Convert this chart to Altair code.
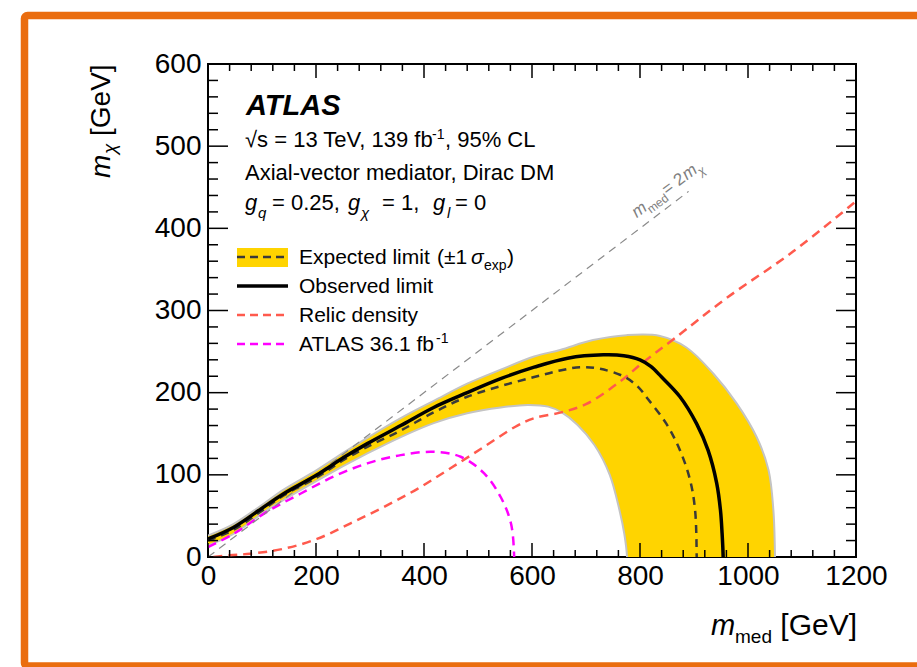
import altair as alt
import pandas as pd

# ---------------- data ----------------
obs_x = [0, 47, 97, 140, 202, 251, 295, 357, 418, 480, 542, 604, 666, 732, 770, 800, 820, 840, 874, 905, 926, 942, 949, 952, 954]
obs_y = [22, 36, 58, 77, 100, 121, 138, 160, 182, 200, 217, 231, 242, 246, 245, 240, 232, 219, 195, 162, 130, 90, 57, 29, 0]

exp_x = [0, 47, 97, 140, 202, 251, 295, 357, 418, 480, 542, 604, 652, 689, 726, 769, 795, 815, 849, 874, 893, 902, 905]
exp_y = [20, 33, 55, 75, 97, 118, 134, 154, 176, 195, 208, 219, 227, 231, 229, 220, 208, 192, 162, 130, 93, 57, 0]

band_up_x = [0, 47, 97, 140, 202, 251, 295, 357, 418, 480, 542, 604, 652, 713, 775, 837, 886, 936, 979, 1016, 1038, 1047, 1050]
band_up_y = [26, 40, 62, 82, 106, 127, 145, 169, 190, 211, 228, 244, 252, 264, 270, 269, 255, 223, 187, 146, 106, 57, 0]

band_lo_x = [0, 47, 109, 202, 295, 357, 418, 480, 542, 592, 630, 655, 684, 716, 744, 762, 771, 776]
band_lo_y = [14, 28, 57, 93, 126, 146, 163, 175, 182, 185, 183, 176, 161, 136, 100, 57, 28, 0]

relic_x = [10, 40, 78, 140, 202, 264, 326, 388, 449, 511, 573, 604, 654, 700, 760, 806, 862, 960, 1084, 1200]
relic_y = [0, 2, 4, 10, 22, 41, 61, 83, 108, 134, 160, 169, 176, 186, 212, 237, 265, 315, 372, 433]

old_x = [0, 47, 109, 171, 233, 295, 357, 418, 468, 511, 542, 561, 567]
old_y = [12, 28, 55, 77, 98, 114, 124, 128, 122, 102, 73, 41, 0]

diag_x = [0, 890]
diag_y = [0, 445]

x_major = [0, 200, 400, 600, 800, 1000, 1200]
x_minor = [v for v in range(40, 1200, 40) if v % 200 != 0]
y_major = [0, 100, 200, 300, 400, 500, 600]
y_minor = [v for v in range(20, 600, 20) if v % 100 != 0]

# ---------------- layout / style ----------------
FONT = "Liberation Sans"
L, T, W, H = 208, 64, 648, 493
YEL = "#FFD400"
RED = "#FF5A4D"
MAG = "#FF00FF"
ORANGE = "#EA6D0F"
GRAYLINE = "#C4C4C4"
SMOOTH = "catmull-rom"
BELOW = -25  # helper depth below the axis so curve ends run straight down (clipped away)


def dfxy(xs, ys):
    return pd.DataFrame({"x": xs, "y": ys, "i": list(range(len(xs)))})


xsc = alt.Scale(domain=[0, 1200], nice=False, zero=False)
ysc = alt.Scale(domain=[0, 600], nice=False, zero=False)
X = alt.X("x:Q", scale=xsc, axis=alt.Axis(values=x_major, title=None, ticks=False, domain=False, grid=False,
                                          labelFontSize=28, labelFont=FONT, labelPadding=5, labelColor="black",
                                          labelFlush=False, format="d"))
Y = alt.Y("y:Q", scale=ysc, axis=alt.Axis(values=y_major, title=None, ticks=False, domain=False, grid=False,
                                          labelFontSize=28, labelFont=FONT, labelPadding=7, labelColor="black",
                                          format="d"))

one = pd.DataFrame({"a": [0]})

layers = []

# +-1 sigma band as one closed polygon: upper edge out, lower edge back
up_ext_x = band_up_x + [band_up_x[-1]]
up_ext_y = band_up_y + [BELOW]
lo_ext_x = band_lo_x + [band_lo_x[-1]]
lo_ext_y = band_lo_y + [BELOW]
poly_x = up_ext_x + lo_ext_x[::-1]
poly_y = up_ext_y + lo_ext_y[::-1]
layers.append(alt.Chart(dfxy(poly_x, poly_y)).mark_line(fill=YEL, strokeOpacity=0, strokeWidth=0,
                                                        interpolate=SMOOTH, clip=True)
              .encode(x=X, y=Y, order="i:Q"))
for bx, by in [(up_ext_x, up_ext_y), (lo_ext_x, lo_ext_y)]:
    layers.append(alt.Chart(dfxy(bx, by)).mark_line(color=GRAYLINE, strokeWidth=2, interpolate=SMOOTH, clip=True)
                  .encode(x=X, y=Y, order="i:Q"))

# other curves
layers.append(alt.Chart(dfxy(relic_x, relic_y)).mark_line(color=RED, strokeWidth=2.5, strokeDash=[9, 6],
                                                          interpolate=SMOOTH, clip=True)
              .encode(x=X, y=Y, order="i:Q"))
layers.append(alt.Chart(dfxy(old_x + [old_x[-1]], old_y + [BELOW])).mark_line(
    color=MAG, strokeWidth=2.5, strokeDash=[9, 6], interpolate=SMOOTH, clip=True)
              .encode(x=X, y=Y, order="i:Q"))
layers.append(alt.Chart(dfxy(diag_x, diag_y)).mark_line(color="#8A8A8A", strokeWidth=1.2, strokeDash=[8, 6], clip=True)
              .encode(x=X, y=Y, order="i:Q"))
layers.append(alt.Chart(dfxy(exp_x + [exp_x[-1]], exp_y + [BELOW])).mark_line(
    color="#3A3A3A", strokeWidth=2.5, strokeDash=[8, 6], interpolate=SMOOTH, clip=True)
              .encode(x=X, y=Y, order="i:Q"))
layers.append(alt.Chart(dfxy(obs_x + [obs_x[-1]], obs_y + [BELOW])).mark_line(
    color="black", strokeWidth=3.5, interpolate=SMOOTH, clip=True)
              .encode(x=X, y=Y, order="i:Q"))

# inward ticks on all four sides
xmaj_df = pd.DataFrame({"x": x_major})
xmin_df = pd.DataFrame({"x": x_minor})
ymaj_df = pd.DataFrame({"y": y_major})
ymin_df = pd.DataFrame({"y": y_minor})
for d, ln in [(xmaj_df, 14), (xmin_df, 7)]:
    layers.append(alt.Chart(d).mark_rule(color="black", strokeWidth=1.5)
                  .encode(x=X, y=alt.value(H), y2=alt.value(H - ln)))
    layers.append(alt.Chart(d).mark_rule(color="black", strokeWidth=1.5)
                  .encode(x=X, y=alt.value(0), y2=alt.value(ln)))
for d, ln in [(ymaj_df, 20), (ymin_df, 10)]:
    layers.append(alt.Chart(d).mark_rule(color="black", strokeWidth=1.5)
                  .encode(y=Y, x=alt.value(0), x2=alt.value(ln)))
    layers.append(alt.Chart(d).mark_rule(color="black", strokeWidth=1.5)
                  .encode(y=Y, x=alt.value(W), x2=alt.value(W - ln)))


def txt(text, px, py, size, style="normal", weight="normal", color="black", align="left", angle=0, dx=0, dy=0):
    return alt.Chart(one).mark_text(text=text, font=FONT, fontSize=size, fontStyle=style, fontWeight=weight,
                                    color=color, align=align, baseline="alphabetic", angle=angle, dx=dx, dy=dy
                                    ).encode(x=alt.value(px - L), y=alt.value(py - T))


# info block
layers += [
    txt("ATLAS", 246, 115, 29, style="italic", weight="bold"),
    txt("√s = 13 TeV, 139 fb", 245, 147, 22),
    txt("-1", 432, 139, 14),
    txt(", 95% CL", 445, 147, 22),
    txt("Axial-vector mediator, Dirac DM", 245, 180, 22),
    txt("g", 245, 210, 22, style="italic"),
    txt("q", 258, 218, 15, style="italic"),
    txt("= 0.25,", 272, 210, 22),
    txt("g", 348, 210, 22, style="italic"),
    txt("χ", 361, 218, 15, style="italic"),
    txt("= 1,", 382, 210, 22),
    txt("g", 433, 210, 22, style="italic"),
    txt("l", 447, 218, 15, style="italic"),
    txt("= 0", 455, 210, 22),
]


# legend
def hseg(px1, px2, py, color, width, dash=None):
    kw = dict(color=color, strokeWidth=width)
    if dash is not None:
        kw["strokeDash"] = dash
    return alt.Chart(one).mark_rule(**kw).encode(x=alt.value(px1 - L), x2=alt.value(px2 - L), y=alt.value(py - T))


layers.append(alt.Chart(one).mark_rect(color=YEL).encode(x=alt.value(237 - L), x2=alt.value(288 - L),
                                                          y=alt.value(248 - T), y2=alt.value(267 - T)))
layers += [
    hseg(237, 288, 257, "#3A3A3A", 2.5, [8, 5]),
    hseg(237, 288, 286, "black", 3.5),
    hseg(237, 288, 315, RED, 2.5, [8, 5]),
    hseg(237, 288, 344, MAG, 2.5, [8, 5]),
    txt("Expected limit", 299, 264, 21),
    txt("(±1", 437, 264, 21),
    txt("σ", 471, 264, 21, style="italic"),
    txt("exp", 484, 270, 14),
    txt(")", 507, 264, 21),
    txt("Observed limit", 299, 293, 21),
    txt("Relic density", 299, 322, 21),
    txt("ATLAS 36.1 fb", 299, 351, 21),
    txt("-1", 436, 343, 14),
]

# diagonal label  m_med = 2 m_chi
ax, ay, ang, dg = 636.7, 218.3, 323, "#808080"
layers += [
    txt("m", ax, ay, 17, style="italic", color=dg, angle=ang),
    txt("med", ax, ay, 12, color=dg, angle=ang, dx=14, dy=5),
    txt("= 2", ax, ay, 17, color=dg, angle=ang, dx=38),
    txt("m", ax, ay, 17, style="italic", color=dg, angle=ang, dx=63),
    txt("χ", ax, ay, 12, style="italic", color=dg, angle=ang, dx=77, dy=5),
]

# axis titles
layers += [
    txt("m", 711, 635, 29, style="italic"),
    txt("med", 735, 643, 19),
    txt("[GeV]", 857, 635, 30, align="right"),
    txt("m", 110, 178, 28, style="italic", angle=270),
    txt("χ", 110, 178, 19, style="italic", angle=270, dx=24, dy=6),
    txt("[GeV]", 110, 178, 28, angle=270, dx=42),
]

# orange outer frame
layers.append(alt.Chart(one).mark_rect(fillOpacity=0, stroke=ORANGE, strokeWidth=7.5, cornerRadius=3)
              .encode(x=alt.value(24.5 - L), x2=alt.value(940 - L), y=alt.value(15.5 - T), y2=alt.value(666 - T)))

chart = alt.layer(*layers).properties(
    width=W, height=H,
    autosize=alt.AutoSizeParams(type="none"),
    padding={"left": L, "top": T, "right": 917 - L - W, "bottom": 667 - T - H},
    background="white",
).configure_view(stroke="black", strokeWidth=2)

chart.save("out.html", embed_options={"renderer": "svg", "actions": False})
